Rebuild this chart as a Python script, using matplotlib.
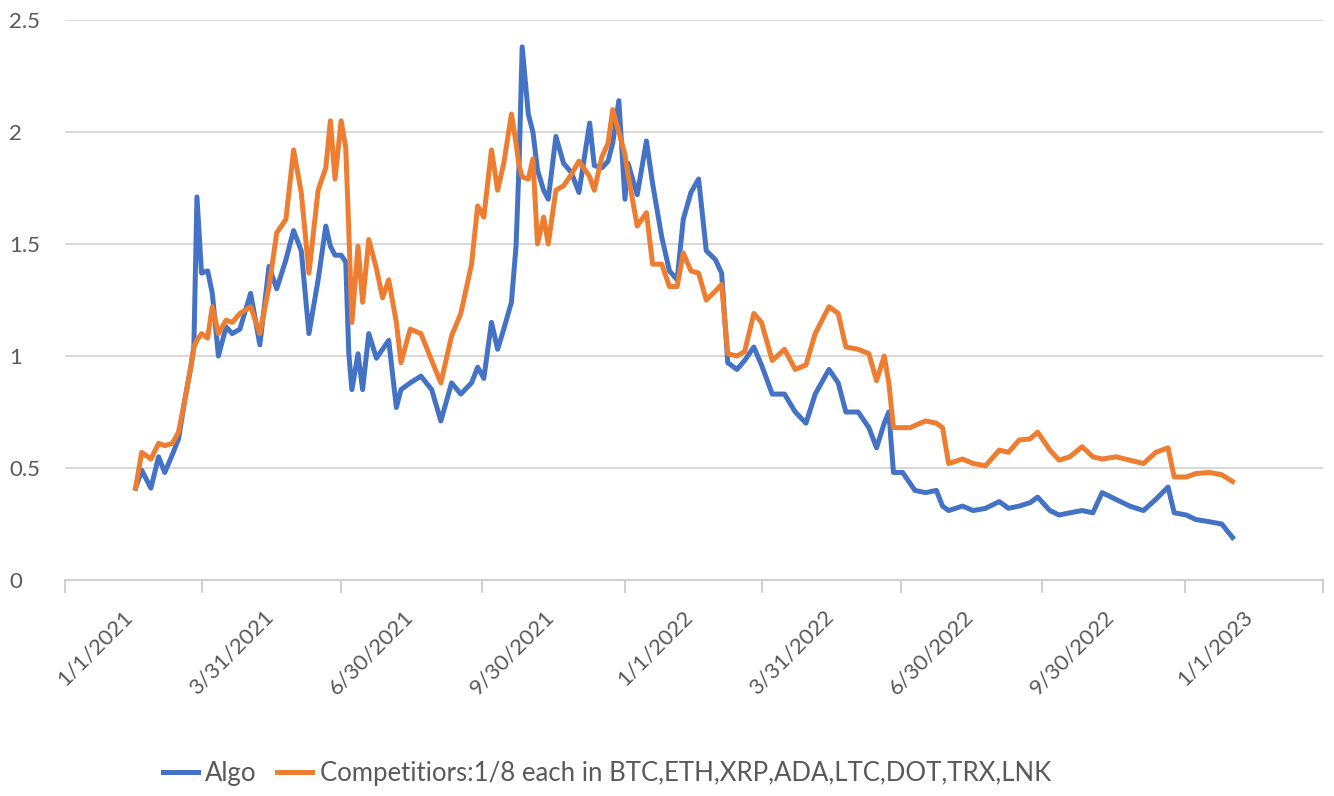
# Algo vs competitor basket, Excel style line chart
import matplotlib.pyplot as plt
import matplotlib.transforms as mtransforms
import numpy as np
import pandas as pd

plt.rcParams['font.family'] = ['Lato', 'DejaVu Sans']

# days since 1/1/2021
days = [46, 50, 56, 61, 65, 70, 74, 78, 82, 84, 86, 89, 93, 96, 100, 105, 109, 114,
        121, 127, 133, 138, 144, 149, 154, 159, 165, 170, 173, 176, 180, 183, 185, 187,
        191, 194, 198, 203, 207, 211, 216, 219, 225, 232, 239, 245, 252, 258, 265, 269,
        273, 278, 282, 286, 291, 294, 296, 298, 302, 305, 308, 312, 315, 320, 325, 330,
        335, 342, 345, 350, 354, 357, 361, 365, 367, 373, 379, 383, 389, 394, 399, 403,
        408, 413, 418, 424, 428, 432, 438, 443, 449, 454, 461, 469, 476, 483, 489, 498,
        504, 509, 517, 524, 529, 534, 537, 540, 546, 551, 554, 561, 568, 572, 576, 585,
        592, 600, 609, 615, 622, 629, 634, 642, 648, 655, 663, 670, 676, 685, 694, 703,
        711, 719, 723, 731, 737, 746, 754, 761]

algo = [0.41, 0.49, 0.41, 0.55, 0.48, 0.56, 0.63, 0.80, 0.95, 1.04, 1.71, 1.37, 1.38, 1.28,
        1.00, 1.13, 1.10, 1.12, 1.28, 1.05, 1.40, 1.30, 1.43, 1.56, 1.47, 1.10, 1.34, 1.58,
        1.49, 1.45, 1.45, 1.42, 1.01, 0.85, 1.01, 0.85, 1.10, 0.99, 1.03, 1.07, 0.77, 0.85,
        0.88, 0.91, 0.85, 0.71, 0.88, 0.83, 0.88, 0.95, 0.90, 1.15, 1.03, 1.12, 1.24, 1.49,
        1.86, 2.38, 2.08, 2.00, 1.83, 1.74, 1.70, 1.98, 1.86, 1.82, 1.73, 2.04, 1.85, 1.84,
        1.87, 1.95, 2.14, 1.70, 1.86, 1.72, 1.96, 1.77, 1.53, 1.38, 1.34, 1.61, 1.73, 1.79,
        1.47, 1.43, 1.37, 0.97, 0.94, 0.98, 1.04, 0.96, 0.83, 0.83, 0.75, 0.70, 0.83, 0.94,
        0.88, 0.75, 0.75, 0.68, 0.59, 0.70, 0.75, 0.48, 0.48, 0.43, 0.40, 0.39, 0.40, 0.33,
        0.31, 0.33, 0.31, 0.32, 0.35, 0.32, 0.33, 0.345, 0.37, 0.31, 0.29, 0.30, 0.31, 0.30,
        0.39, 0.36, 0.33, 0.31, 0.36, 0.415, 0.30, 0.29, 0.27, 0.26, 0.25, 0.19]

competitors = [0.41, 0.57, 0.54, 0.61, 0.60, 0.61, 0.66, 0.80, 0.95, 1.04, 1.07, 1.10, 1.08,
               1.22, 1.10, 1.16, 1.15, 1.19, 1.22, 1.10, 1.31, 1.55, 1.61, 1.92, 1.73, 1.37,
               1.74, 1.84, 2.05, 1.79, 2.05, 1.93, 1.56, 1.15, 1.49, 1.24, 1.52, 1.39, 1.26,
               1.34, 1.15, 0.97, 1.12, 1.10, 0.98, 0.88, 1.09, 1.19, 1.41, 1.67, 1.62, 1.92,
               1.74, 1.86, 2.08, 1.95, 1.85, 1.80, 1.79, 1.88, 1.50, 1.62, 1.50, 1.74, 1.76,
               1.81, 1.87, 1.80, 1.74, 1.89, 1.95, 2.10, 2.00, 1.90, 1.81, 1.58, 1.64, 1.41,
               1.41, 1.31, 1.31, 1.46, 1.38, 1.37, 1.25, 1.29, 1.32, 1.01, 1.00, 1.02, 1.19,
               1.15, 0.98, 1.03, 0.94, 0.96, 1.10, 1.22, 1.19, 1.04, 1.03, 1.01, 0.89, 1.00,
               0.88, 0.68, 0.68, 0.68, 0.69, 0.71, 0.70, 0.68, 0.52, 0.54, 0.52, 0.51, 0.58,
               0.57, 0.625, 0.63, 0.66, 0.58, 0.535, 0.55, 0.595, 0.55, 0.54, 0.55, 0.535,
               0.52, 0.57, 0.59, 0.46, 0.46, 0.475, 0.48, 0.47, 0.44]

tick_dates = ['2021-01-01', '2021-03-31', '2021-06-30', '2021-09-30', '2022-01-01',
              '2022-03-31', '2022-06-30', '2022-09-30', '2023-01-01']
tick_labels = ['1/1/2021', '3/31/2021', '6/30/2021', '9/30/2021', '1/1/2022',
               '3/31/2022', '6/30/2022', '9/30/2022', '1/1/2023']

dates = pd.Timestamp('2021-01-01') + pd.to_timedelta(days, unit='D')

fig = plt.figure(figsize=(13.34, 7.96), dpi=100)
ax = fig.add_axes([65 / 1334, 1 - 580 / 796, (1323 - 65) / 1334, 560 / 796])

ax.plot(dates, algo, color='#4472C4', lw=3.6, label='Algo', solid_joinstyle='round')
ax.plot(dates, competitors, color='#ED7D31', lw=3.6,
        label='Competitiors:1/8 each in BTC,ETH,XRP,ADA,LTC,DOT,TRX,LNK', solid_joinstyle='round')

ax.set_xlim(pd.Timestamp('2021-01-01'), pd.Timestamp('2023-04-01'))
ax.set_ylim(0, 2.5)
ax.set_yticks(np.arange(0, 2.51, 0.5))
ax.set_yticklabels(['0', '0.5', '1', '1.5', '2', '2.5'])
ax.grid(axis='y', color='#D9D9D9', lw=1.5)
ax.set_axisbelow(True)

for s in ['top', 'right', 'left']:
    ax.spines[s].set_visible(False)
ax.spines['bottom'].set_color('#D0D0D0')
ax.spines['bottom'].set_linewidth(1.5)
ax.tick_params(axis='x', length=9, width=1.5, color='#D0D0D0', labelsize=16,
               labelcolor='#595959', pad=10)
ax.tick_params(axis='y', length=0, labelsize=16, labelcolor='#595959', pad=40)
for lab in ax.get_yticklabels():
    lab.set_horizontalalignment('left')

ticks = list(pd.to_datetime(tick_dates)) + [pd.Timestamp('2023-04-01')]
ax.set_xticks(ticks)
ax.set_xticklabels(tick_labels + [''], rotation=45, ha='center')
# shift rotated labels right, as Excel draws them
offset = mtransforms.ScaledTranslation(0.3, 0, fig.dpi_scale_trans)
for lab in ax.get_xticklabels():
    lab.set_transform(lab.get_transform() + offset)

fig.legend(loc='center', bbox_to_anchor=(607 / 1334, 1 - 773 / 796), ncol=2, frameon=False,
           fontsize=18.5, labelcolor='#595959', handlelength=1.35, handletextpad=0.3,
           columnspacing=0.8)

plt.savefig('out.png', dpi=100)
